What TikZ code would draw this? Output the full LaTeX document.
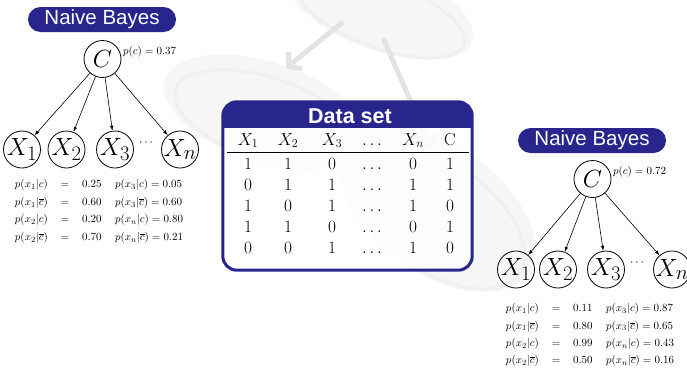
\documentclass[tikz,border=0pt]{standalone}
\usepackage{fontspec}
\setsansfont{Liberation Sans}
\usetikzlibrary{arrows.meta,calc}
\definecolor{navy}{RGB}{40,38,140}

\tikzset{
  titlepill/.style={fill=navy, text=white, rounded corners=12.5pt, minimum width=148pt,
    minimum height=25pt, inner sep=0pt, font=\sffamily\fontsize{20.5}{24}\selectfont},
  var/.style={circle, draw, line width=0.8pt, minimum size=37pt, inner sep=0pt},
  varlabel/.style={inner sep=0pt, font=\fontsize{24.88}{30}\selectfont},
  edge/.style={-{Latex[length=5pt,width=3.5pt]}, line width=0.6pt},
  prob/.style={inner sep=0pt, font=\fontsize{10.95}{13}\selectfont},
  ellip/.style={inner sep=0pt, font=\fontsize{12}{14}\selectfont},
  cell/.style={inner sep=0pt, anchor=base, font=\fontsize{17.28}{20}\selectfont},
  disc/.style={fill=gray!13, fill opacity=0.55},
  discrim/.style={draw=gray!22, line width=3pt, draw opacity=0.3},
  ghostarrow/.style={draw=gray!22, line width=5pt, -{Straight Barb[length=9pt,width=22pt,line width=5pt]}}
}

\begin{document}
\begin{tikzpicture}[x=1pt,y=-1pt]
\useasboundingbox (0,0) rectangle (687,367);

% faint background: three tilted discs joined by arrows
\fill[disc, rotate around={-20:(380,8)}] (380,8) ellipse (98 and 42);
\draw[discrim, rotate around={-20:(380,8)}] (383,14) ellipse (88 and 33);
\fill[disc, rotate around={-18:(265,112)}] (265,112) ellipse (105 and 50);
\draw[discrim, rotate around={-18:(265,112)}] (268,118) ellipse (95 and 41);
\fill[disc, rotate around={-35:(438,210)}] (438,210) ellipse (110 and 64);
\draw[discrim, rotate around={-35:(438,210)}] (441,216) ellipse (100 and 54);
\coordinate (gA) at (343,22);
\coordinate (gB) at (286,68);
\coordinate (gC) at (383,38);
\coordinate (gD) at (432,150);
\draw[ghostarrow] (gA) -- (gB);
\draw[ghostarrow] (gC) -- (gD);

% ---------- left network ----------
\node[titlepill] (tL) at (102,19.5) {Naive Bayes};
\node[var] (cL) at (102.5,59) {};
\node[varlabel] at (cL) {$C$};
\node[prob, anchor=west] (pcL) at (123,52) {$p(c) = 0.37$};
\node[var] (x1L) at (22,149.5) {};
\node[var] (x2L) at (66.5,149.5) {};
\node[var] (x3L) at (115,149.5) {};
\node[var] (xnL) at (180,149.5) {};
\node[varlabel] at (x1L) {$X_1$};
\node[varlabel] at (x2L) {$X_2$};
\node[varlabel] at (x3L) {$X_3$};
\node[varlabel] at (xnL) {$X_n$};
\node[ellip] (dL) at (146,143) {$\cdots$};
\foreach \t in {x1L,x2L,x3L,xnL} \draw[edge] (cL) -- (\t);

\foreach \y/\a/\v/\b in {
  184/{x_1|c}/0.25/{x_3|c) = 0.05},
  202/{x_1|\overline{c}}/0.60/{x_3|\overline{c}) = 0.60},
  219/{x_2|c}/0.20/{x_n|c) = 0.80},
  237/{x_2|\overline{c}}/0.70/{x_n|\overline{c}) = 0.21}} {
  \node[prob, anchor=base east] at (48,\y+3.5) {$p(\a)$};
  \node[prob, anchor=base] at (65,\y+3.5) {$=$};
  \node[prob, anchor=base west] at (82,\y+3.5) {$\v$};
  \node[prob, anchor=base west] at (115,\y+3.5) {$p(\b$};
}

% ---------- data set ----------
\node[minimum width=249pt, minimum height=168pt, inner sep=0pt] (data) at (347.5,186) {};
\fill[white, fill opacity=0.85, rounded corners=14pt] (data.north west) rectangle (data.south east);
\begin{scope}
  \clip[rounded corners=14pt] (data.north west) rectangle (data.south east);
  \fill[navy] (data.north west) rectangle ($(data.north east)+(0,26)$);
\end{scope}
\draw[navy, line width=3pt, rounded corners=14pt] (data.north west) rectangle (data.south east);
\node[text=white, inner sep=0pt, font=\sffamily\bfseries\fontsize{21.5}{24}\selectfont] (dtitle) at (350,116) {Data set};

\foreach \x/\h in {248/$X_1$,288/$X_2$,332/$X_3$,372/$\dots$,413/$X_n$,450/C}
  \node[cell] at (\x,145) {\h};
\coordinate (rl) at (227,152);
\coordinate (rr) at (469,152);
\draw[line width=0.8pt] (rl) -- (rr);
\foreach \y/\a/\b/\c/\d/\e in {169/1/1/0/0/1,190/0/1/1/1/1,211/1/0/1/1/0,232/1/1/0/0/1,253/0/0/1/1/0} {
  \node[cell] at (248,\y) {$\a$};
  \node[cell] at (288,\y) {$\b$};
  \node[cell] at (332,\y) {$\c$};
  \node[cell] at (372,\y) {$\dots$};
  \node[cell] at (413,\y) {$\d$};
  \node[cell] at (450,\y) {$\e$};
}

% ---------- right network ----------
\node[titlepill] (tR) at (592,140.5) {Naive Bayes};
\node[var] (cR) at (592.5,179) {};
\node[varlabel] at (cR) {$C$};
\node[prob, anchor=west] (pcR) at (613,172) {$p(c) = 0.72$};
\node[var] (x1R) at (516,269.5) {};
\node[var] (x2R) at (558,269.5) {};
\node[var] (x3R) at (606,269.5) {};
\node[var] (xnR) at (672,269.5) {};
\node[varlabel] at (x1R) {$X_1$};
\node[varlabel] at (x2R) {$X_2$};
\node[varlabel] at (x3R) {$X_3$};
\node[varlabel] at (xnR) {$X_n$};
\node[ellip] (dR) at (637,263) {$\cdots$};
\foreach \t in {x1R,x2R,x3R,xnR} \draw[edge] (cR) -- (\t);

\foreach \y/\a/\v/\b in {
  308/{x_1|c}/0.11/{x_3|c) = 0.87},
  325.5/{x_1|\overline{c}}/0.80/{x_3|\overline{c}) = 0.65},
  343/{x_2|c}/0.99/{x_n|c) = 0.43},
  360/{x_2|\overline{c}}/0.50/{x_n|\overline{c}) = 0.16}} {
  \node[prob, anchor=base east] at (539,\y+3.5) {$p(\a)$};
  \node[prob, anchor=base] at (556,\y+3.5) {$=$};
  \node[prob, anchor=base west] at (573,\y+3.5) {$\v$};
  \node[prob, anchor=base west] at (606,\y+3.5) {$p(\b$};
}
\end{tikzpicture}
\end{document}
